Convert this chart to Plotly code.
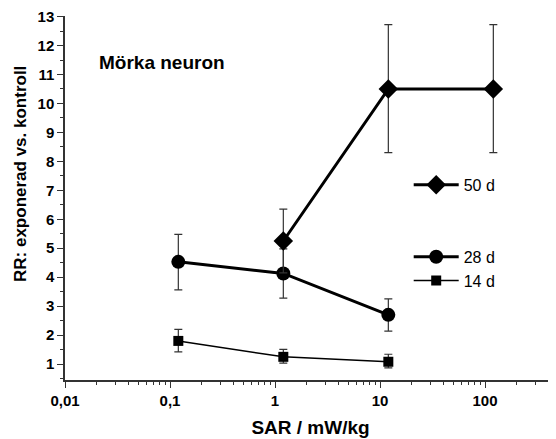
import plotly.graph_objects as go

# ---- data ----
sar = [0.12, 1.2, 12]
sar50 = [1.2, 12, 120]

rr14 = [1.80, 1.25, 1.08]
rr14_up = [0.40, 0.26, 0.26]
rr14_dn = [0.38, 0.22, 0.21]

rr28 = [4.53, 4.13, 2.70]
rr28_up = [0.95, 0.85, 0.55]
rr28_dn = [0.97, 0.85, 0.56]

rr50 = [5.25, 10.50, 10.50]
rr50_up = [1.10, 2.22, 2.22]
rr50_dn = [1.10, 2.20, 2.20]

x_tickvals = [0.01, 0.1, 1, 10, 100]
x_ticktext = ["0,01", "0,1", "1", "10", "100"]
y_tickvals = list(range(1, 14))

FONT = "Arial, Liberation Sans, sans-serif"
x_minor = [m * 10.0 ** e for e in range(-2, 3) for m in range(2, 10)]
x_range = [-2, 2.676]
y_range = [0.45, 13.02]

fig = go.Figure()

err_style = dict(type="data", symmetric=False, color="#333333", thickness=1.2, width=4)

fig.add_trace(go.Scatter(
    x=sar, y=rr14, mode="lines+markers", name="14 d", legend="legend2", legendrank=2,
    line=dict(color="black", width=1.5),
    marker=dict(symbol="square", size=10, color="black"),
    error_y=dict(array=rr14_up, arrayminus=rr14_dn, **err_style),
))
fig.add_trace(go.Scatter(
    x=sar, y=rr28, mode="lines+markers", name="28 d", legend="legend2", legendrank=1,
    line=dict(color="black", width=3),
    marker=dict(symbol="circle", size=14, color="black"),
    error_y=dict(array=rr28_up, arrayminus=rr28_dn, **err_style),
))
fig.add_trace(go.Scatter(
    x=sar50, y=rr50, mode="lines+markers", name="50 d", legend="legend",
    line=dict(color="black", width=3),
    marker=dict(symbol="diamond", size=15, color="black"),
    error_y=dict(array=rr50_up, arrayminus=rr50_dn, **err_style),
))

axis_common = dict(showgrid=False, zeroline=False, showline=True, linecolor="#333333",
                   linewidth=1.5, tickcolor="#333333", tickwidth=1.2, automargin=False)

fig.update_layout(
    width=556, height=439,
    margin=dict(l=57, r=8, t=8, b=67, autoexpand=False),
    paper_bgcolor="white", plot_bgcolor="white",
    font=dict(family=FONT, color="black"),
    showlegend=True,
    xaxis=dict(
        type="log", range=x_range, tickmode="array", tickvals=x_tickvals, ticktext=x_ticktext,
        ticks="outside", ticklen=6,
        minor=dict(tickmode="array", tickvals=x_minor, ticks="outside", ticklen=3,
                   tickcolor="#333333", tickwidth=1.2, showgrid=False),
        tickfont=dict(family=FONT, size=15, color="black", weight="bold"),
        title=dict(text="<b>SAR / mW/kg</b>", font=dict(family=FONT, size=19), standoff=13),
        **axis_common,
    ),
    xaxis2=dict(
        type="log", range=x_range, overlaying="x", side="top", anchor="y",
        tickmode="array", tickvals=x_tickvals, showticklabels=False,
        ticks="inside", ticklen=5,
        minor=dict(tickmode="array", tickvals=x_minor, ticks="inside", ticklen=3,
                   tickcolor="#333333", tickwidth=1.2, showgrid=False),
        **axis_common,
    ),
    yaxis=dict(
        range=y_range, tickmode="array", tickvals=y_tickvals, ticklabeloverflow="allow",
        ticks="outside", ticklen=6,
        minor=dict(dtick=0.5, tick0=0, ticks="outside", ticklen=3, tickcolor="#333333",
                   tickwidth=1.2, showgrid=False),
        tickfont=dict(family=FONT, size=15, color="black", weight="bold"),
        **axis_common,
    ),
    yaxis2=dict(
        range=y_range, overlaying="y", side="right", anchor="x",
        tickmode="array", tickvals=y_tickvals, showticklabels=False,
        ticks="inside", ticklen=5,
        minor=dict(dtick=0.5, tick0=0, ticks="inside", ticklen=3, tickcolor="#333333",
                   tickwidth=1.2, showgrid=False),
        **axis_common,
    ),
    legend=dict(x=0.70, y=0.536, xanchor="left", yanchor="middle", itemwidth=45,
                bgcolor="rgba(0,0,0,0)", font=dict(family=FONT, size=16, color="black")),
    legend2=dict(x=0.70, y=0.385, xanchor="left", yanchor="top", traceorder="normal", itemwidth=45,
                 bgcolor="rgba(0,0,0,0)", font=dict(family=FONT, size=16, color="black")),
    annotations=[
        dict(text="<b>Mörka neuron</b>", xref="paper", yref="paper", x=0.066, y=0.871,
             xanchor="left", yanchor="middle", showarrow=False,
             font=dict(family=FONT, size=19, color="black")),
        dict(text="<b>RR: exponerad vs. kontroll</b>", xref="paper", yref="paper",
             x=-0.0896, y=0.566, xanchor="center", yanchor="middle", textangle=-90,
             showarrow=False, font=dict(family=FONT, size=17, color="black")),
    ],
)

fig.write_html("out.html")
